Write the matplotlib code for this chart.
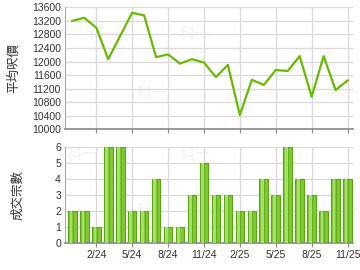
import matplotlib
matplotlib.use('Agg')
import matplotlib.pyplot as plt
import numpy as np

plt.rcParams['font.family'] = ['Liberation Sans', 'Noto Sans CJK TC', 'DejaVu Sans']

# monthly data 12/23 .. 11/25
months = ['12/23', '1/24', '2/24', '3/24', '4/24', '5/24', '6/24', '7/24',
          '8/24', '9/24', '10/24', '11/24', '12/24', '1/25', '2/25', '3/25',
          '4/25', '5/25', '6/25', '7/25', '8/25', '9/25', '10/25', '11/25']
avg_price = [13200, 13290, 13000, 12070, 12760, 13440, 13360, 12130,
             12210, 11940, 12070, 11970, 11540, 11900, 10420, 11460,
             11310, 11750, 11720, 12160, 10960, 12160, 11160, 11440]
deals = [2, 2, 1, 6, 6, 2, 2, 4, 1, 1, 3, 5, 3, 3, 2, 2, 4, 3, 6, 4, 3, 2, 4, 4]
tick_labels = ['2/24', '5/24', '8/24', '11/24', '2/25', '5/25', '8/25', '11/25']

LINE = '#66bb00'
GRID = '#dadada'
TXT = '#333333'

x = np.arange(len(months))
tick_pos = [months.index(m) for m in tick_labels]

fig = plt.figure(figsize=(3.6, 2.7), dpi=100)
ax1 = fig.add_axes([0.181, 0.521, 0.80, 0.452])
ax2 = fig.add_axes([0.181, 0.099, 0.80, 0.3556])

for ax in (ax1, ax2):
    ax.set_xlim(-0.6, 23.47)
    ax.set_xticks(tick_pos)
    ax.grid(True, color=GRID, linewidth=0.9)
    ax.set_axisbelow(True)
    for sp in ('top', 'right'):
        ax.spines[sp].set_visible(False)
    ax.spines['left'].set_color('#aaaaaa')
    ax.spines['bottom'].set_color('#888888')
    ax.spines['bottom'].set_linewidth(1.2)
    ax.tick_params(axis='y', length=0, labelsize=7.5, labelcolor=TXT, pad=3)
    ax.tick_params(axis='x', length=3, color='#888888', labelsize=7.5,
                   labelcolor=TXT, pad=2)

# top: average price per sq ft
ax1.plot(x, avg_price, color=LINE, linewidth=1.6)
ax1.set_ylim(10000, 13600)
ax1.set_yticks(np.arange(10000, 13601, 400))
ax1.set_xticklabels([])
ax1.set_ylabel('平均呎價', fontsize=9, color=TXT, family='Noto Sans CJK TC',
               labelpad=8)

# bottom: number of deals
ax2.bar(x, deals, width=0.72, color='#80c935', edgecolor='#5aa810',
        linewidth=0.8, zorder=2)
ax2.bar(x - 0.12, deals, width=0.22, color='#a8de70', linewidth=0, zorder=3)
ax2.bar(x + 0.08, deals, width=0.08, color='#62b018', linewidth=0, zorder=3)
ax2.set_ylim(0, 6)
ax2.set_yticks(range(0, 7))
ax2.set_xticklabels(tick_labels)
ax2.set_ylabel('成交宗數', fontsize=9, color=TXT, family='Noto Sans CJK TC',
               labelpad=22)

# faint watermark
for ax, pts in ((ax1, [(0.13, 0.78), (0.30, 0.30), (0.45, 0.78), (0.97, 0.30)]),
                (ax2, [(0.06, 0.93), (0.30, 0.35), (0.45, 0.93), (0.97, 0.35)])):
    for px, py in pts:
        ax.text(px, py, '科一', transform=ax.transAxes, fontsize=11,
                color='#f6f6f6', fontweight='bold', family='Noto Sans CJK TC',
                ha='center', va='center', zorder=0.4)

fig.savefig('out.png', dpi=100)
